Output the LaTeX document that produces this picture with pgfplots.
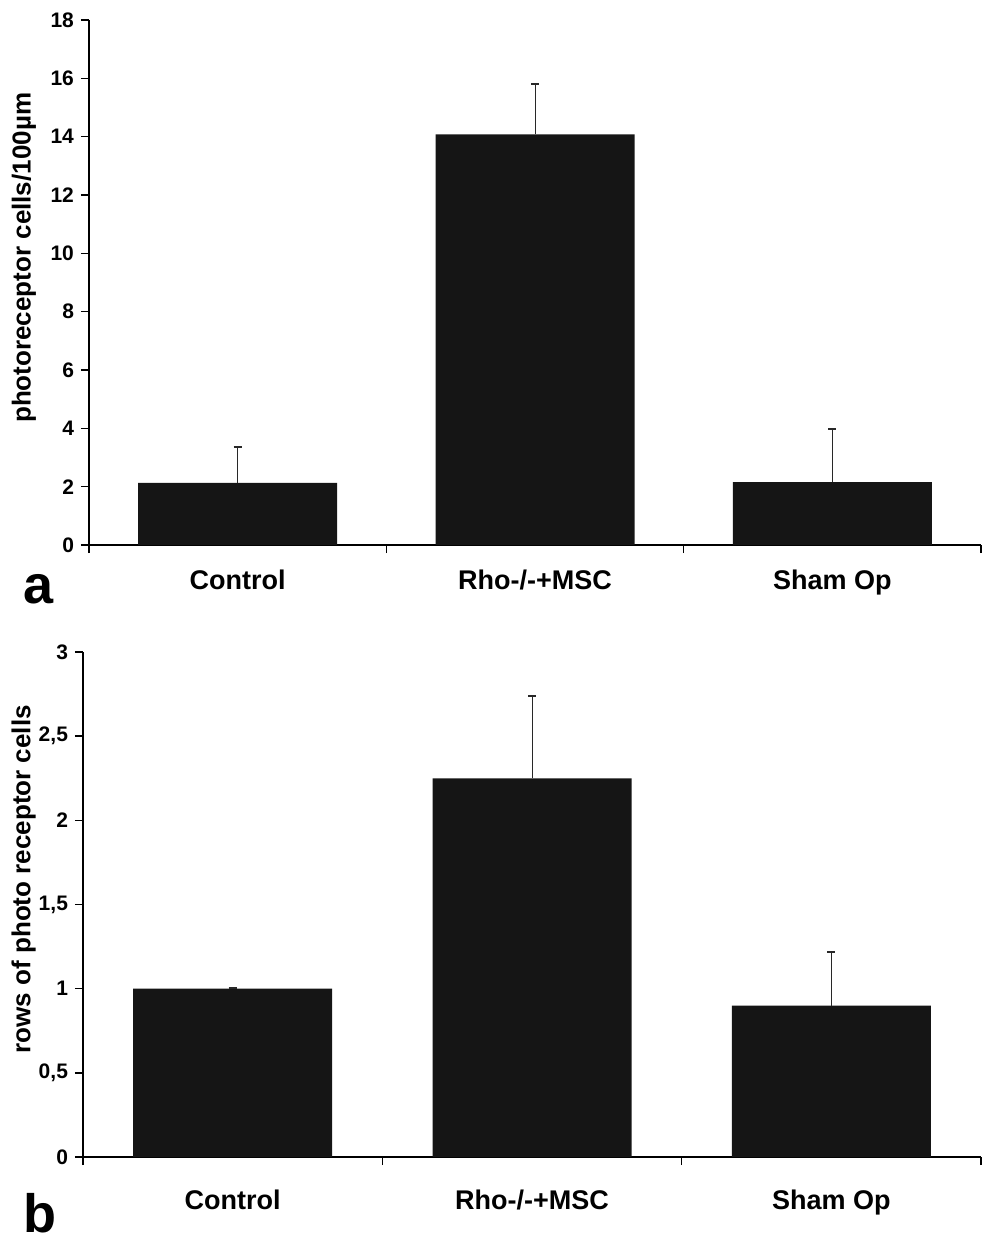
\documentclass[border=0pt]{standalone}
\usepackage{fontspec}
\setmainfont{Liberation Sans}
\usepackage{pgfplots}
\pgfplotsset{compat=1.18}
\definecolor{barblack}{RGB}{21,21,21}
\definecolor{errgray}{RGB}{40,40,40}

\pgfplotsset{
  panel/.style={
    scale only axis,
    anchor=south west,
    axis x line*=bottom,
    axis y line*=left,
    axis line style={line width=0.8pt,black},
    every tick/.style={line width=0.8pt,black},
    tick align=outside,
    major tick length=4pt,
    xmin=-0.5, xmax=2.5,
    ymin=0,
    xtick={-0.5,0.5,1.5,2.5},
    xticklabels={},
    extra x ticks={0,1,2},
    extra x tick labels={Control,Rho-/-+MSC,Sham Op},
    extra x tick style={major tick length=0pt,
      tick label style={font=\bfseries\fontsize{13.5}{15}\selectfont,yshift=-9pt}},
    yticklabel style={font=\bfseries\fontsize{10.5}{12}\selectfont},
    /pgf/number format/assume math mode=true,
    /pgf/number format/use comma,
    ylabel style={font=\bfseries\fontsize{13}{15}\selectfont,anchor=center},
    ybar, bar width=99.5pt, bar shift=0pt,
  },
  barstyle/.style={fill=barblack,draw=none,
    error bars/.cd, y dir=plus, y explicit,
    error mark=|,
    error bar style={line width=0.5pt,errgray},
    error mark options={line width=1pt,mark size=2pt,errgray}},
}

\begin{document}
\begin{tikzpicture}
\useasboundingbox (0,0) rectangle (491.5pt,-620.5pt);

% panel a
\begin{axis}[panel,
  at={(44.5pt,-272.5pt)},
  width=446pt, height=262.5pt,
  ymax=18, ytick={0,2,...,18},
  ylabel={photoreceptor cells/100µm},
  ylabel style={at={(axis description cs:-0.073,0.547)}},
]
\addplot[barstyle] coordinates {
  (0,2.13) +- (0,1.23)
  (1,14.08) +- (0,1.72)
  (2,2.16) +- (0,1.82)
};
\end{axis}

% panel b
\begin{axis}[panel,
  at={(41.5pt,-578.5pt)},
  width=449pt, height=252.5pt,
  ymax=3, ytick={0,0.5,...,3},
  ylabel={rows of photo receptor cells},
  ylabel style={at={(axis description cs:-0.066,0.55)}},
  extra x tick style={tick label style={yshift=-4pt}},
]
\addplot[barstyle] coordinates {
  (0,1.0) +- (0,0.006)
  (1,2.25) +- (0,0.49)
  (2,0.90) +- (0,0.32)
};
\end{axis}

\node[anchor=base west,inner sep=0pt,font=\bfseries\fontsize{27}{30}\selectfont] at (11.5pt,-301.5pt) {a};
\node[anchor=base west,inner sep=0pt,font=\bfseries\fontsize{27}{30}\selectfont] at (11.5pt,-616pt) {b};
\end{tikzpicture}
\end{document}
